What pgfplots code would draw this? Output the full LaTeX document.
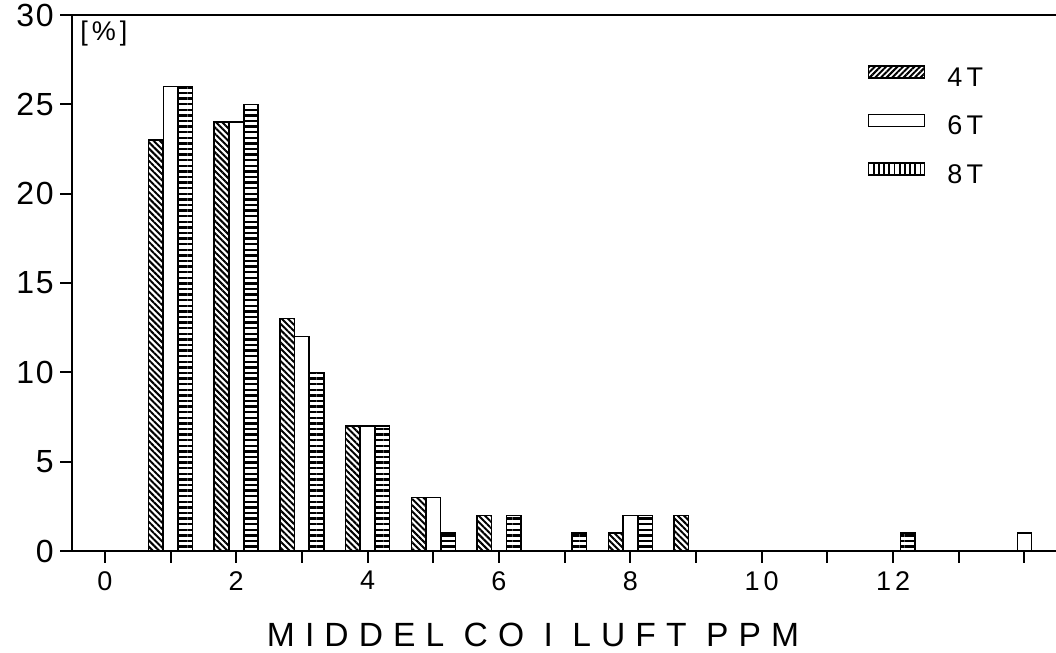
\documentclass[border=0pt]{standalone}
\usepackage{fontspec}
\setmainfont{Liberation Sans}[LetterSpace=15]
\newfontfamily\yfont{Liberation Sans}[LetterSpace=5]
\newfontfamily\labfont{Liberation Sans}[LetterSpace=30]
\usepackage{pgfplots}
\pgfplotsset{compat=1.18}
\usetikzlibrary{patterns.meta}

% bar fills
\tikzset{
  fourT/.style={pattern={Lines[angle=-45,distance=2.2pt,line width=1pt]}},
  fourTleg/.style={pattern={Lines[angle=45,distance=2pt,line width=1pt]}},
  eightT/.style={pattern={Lines[angle=0,distance=2.8pt,line width=1.2pt]}},
  eightTleg/.style={pattern={Lines[angle=90,distance=2.6pt,line width=0.9pt]}},
}

\begin{document}
\begin{tikzpicture}
\begin{axis}[
    at={(0,0)}, anchor=south west,
    width=492pt, height=268pt, scale only axis,
    xmin=-0.5, xmax=14.48, ymin=0, ymax=30,
    axis x line=box, axis y line=left,
    axis line style={-, line width=1.2pt},
    xtick={0,1,...,14},
    xticklabels={0,,2,,4,,6,,8,,10,,12,,},
    ytick={0,5,...,30},
    xtick pos=bottom, ytick pos=left,
    tick align=outside, major tick length=6pt,
    tick style={black, line width=1pt},
    /pgf/number format/assume math mode=true,
    xticklabel style={inner sep=0pt, yshift=-4pt,
        font=\fontsize{13.5}{15}\selectfont},
    yticklabel style={inner sep=0pt, xshift=-3pt,
        font=\yfont\fontsize{16}{18}\selectfont},
    xlabel={MIDDEL CO I LUFT PPM},
    xlabel style={font=\labfont\fontsize{16.8}{19}\selectfont, inner sep=0pt,
        at={(rel axis cs:0.4685,0)}, anchor=north, yshift=-36pt},
    ybar, bar width=0.22,
    legend style={draw=none, fill=none, at={(rel axis cs:0.808,0.907)},
        anchor=north west, inner sep=0pt, row sep=13.5pt,
        column sep=11pt,
        nodes={inner sep=0pt, text height=9.5pt, text depth=0pt,
               font=\fontsize{13.5}{15}\selectfont}},
    legend cell align=left,
]

% 4T
\addplot[draw=black, line width=0.75pt, fourT, bar shift=-0.225,
    legend image code/.code={\draw[black, line width=0.75pt, fourTleg] (0pt,-0.5pt) rectangle (28pt,5.5pt);}]
    coordinates {(1,23) (2,24) (3,13) (4,7) (5,3) (6,2) (8,1) (9,2)};
\addlegendentry{4T}

% 6T
\addplot[draw=black, line width=0.75pt, fill=white, bar shift=0,
    legend image code/.code={\draw[black, line width=0.75pt, fill=white] (0pt,-0.5pt) rectangle (28pt,5.5pt);}]
    coordinates {(1,26) (2,24) (3,12) (4,7) (5,3) (8,2) (14,1)};
\addlegendentry{6T}

% 8T
\addplot[draw=black, line width=0.75pt, eightT, bar shift=0.225,
    legend image code/.code={\draw[black, line width=0.75pt, eightTleg] (0pt,-0.5pt) rectangle (28pt,5.5pt);}]
    coordinates {(1,26) (2,25) (3,10) (4,7) (5,1) (6,2) (7,1) (8,2) (12,1)};
\addlegendentry{8T}

\node[anchor=north west, inner sep=0pt, font=\fontsize{13.5}{15}\selectfont]
    at (rel axis cs:0,1) [xshift=4pt, yshift=-3pt] {[\%]};
\end{axis}
\pgfresetboundingbox
\path[use as bounding box] (-36pt,-51pt) rectangle (492pt,275.5pt);
\end{tikzpicture}
\end{document}
